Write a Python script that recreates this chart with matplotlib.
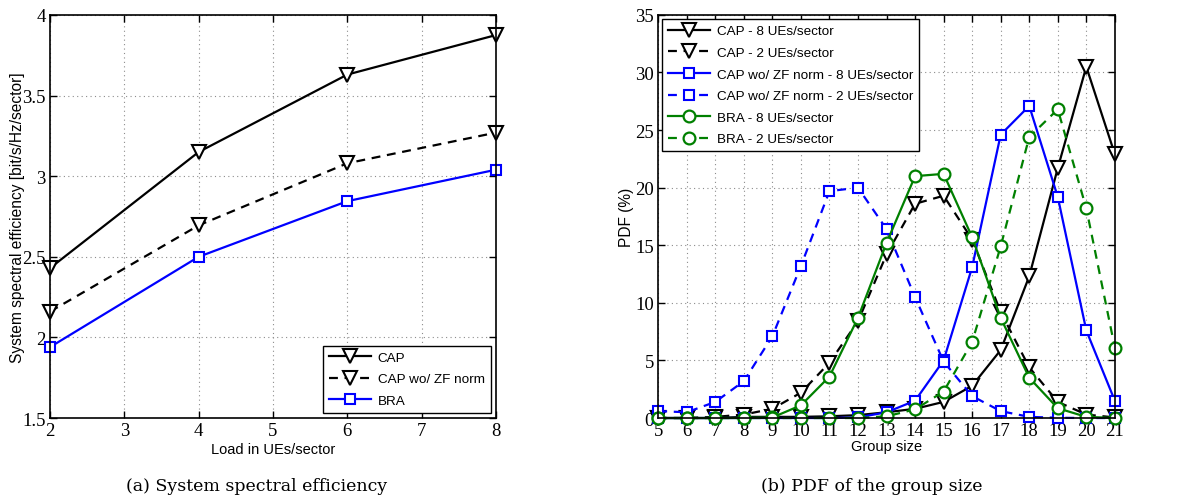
import matplotlib
matplotlib.use('Agg')
from matplotlib import pyplot as plt

# (a) system spectral efficiency vs load
load = [2, 4, 6, 8]
se_cap = [2.43, 3.15, 3.63, 3.875]
se_cap_wo_zf = [2.16, 2.695, 3.08, 3.27]
se_bra = [1.94, 2.50, 2.845, 3.04]

# (b) PDF of the group size (%)
group_size = list(range(5, 22))
cap_8 = [0, 0, 0, 0.1, 0.1, 0.1, 0.15, 0.25, 0.5, 0.8, 1.4, 2.8, 5.9, 12.3, 21.7, 30.5, 22.9]
cap_2 = [0, 0, 0.1, 0.3, 0.8, 2.2, 4.8, 8.4, 14.2, 18.6, 19.3, 15.5, 9.2, 4.4, 1.4, 0.3, 0.05]
capwo_8 = [0, 0, 0, 0, 0, 0, 0, 0.05, 0.5, 1.5, 5.0, 13.1, 24.6, 27.1, 19.2, 7.6, 1.5]
capwo_2 = [0.6, 0.5, 1.4, 3.2, 7.1, 13.2, 19.7, 20.0, 16.4, 10.5, 4.9, 1.9, 0.6, 0.1, 0.02, 0, 0]
bra_8 = [0, 0, 0, 0, 0.05, 1.1, 3.6, 8.7, 15.2, 21.0, 21.2, 15.7, 8.7, 3.5, 0.85, 0.1, 0]
bra_2 = [0, 0, 0, 0, 0, 0, 0, 0, 0.15, 0.75, 2.3, 6.6, 14.9, 24.4, 26.8, 18.2, 6.1]

green = (0, 0.5, 0)
tick_font = 'Liberation Serif'
label_font = 'Liberation Sans'

fig = plt.figure(figsize=(11.86, 5.02), dpi=100)
ax1 = fig.add_axes([0.0422, 0.1653, 0.376, 0.803])
ax2 = fig.add_axes([0.555, 0.1653, 0.385, 0.803])

lw = 1.6
tri = dict(marker='v', ms=9.5, mfc='white', mew=1.5, clip_on=False)
sq = dict(marker='s', ms=7, mfc='white', mew=1.5, clip_on=False)
circ = dict(marker='o', ms=8.5, mfc='white', mew=1.6, clip_on=False)
dash = (4, 3)

ax1.plot(load, se_cap, '-', color='k', lw=lw, label='CAP', **tri)
ax1.plot(load, se_cap_wo_zf, '--', color='k', lw=lw, dashes=dash, label='CAP wo/ ZF norm', **tri)
ax1.plot(load, se_bra, '-', color='b', lw=lw, label='BRA', **sq)
ax1.set_xlim(2, 8)
ax1.set_ylim(1.5, 4)
ax1.set_xticks(range(2, 9))
ax1.set_yticks([1.5, 2, 2.5, 3, 3.5, 4])
ax1.set_yticklabels(['1.5', '2', '2.5', '3', '3.5', '4'])
ax1.set_xlabel('Load in UEs/sector', family=label_font, fontsize=10.5, labelpad=2)
ax1.set_ylabel('System spectral efficiency [bit/s/Hz/sector]', family=label_font, fontsize=11.2)
ax1.yaxis.set_label_coords(-0.057, 0.5)
leg1 = ax1.legend(loc='lower right', prop={'family': label_font, 'size': 9.7}, handlelength=3.1,
                  fancybox=False, edgecolor='k', framealpha=1, borderaxespad=0.4,
                  labelspacing=0.65, handletextpad=0.5, borderpad=0.45)
leg1.get_frame().set_linewidth(1.0)

ax2.plot(group_size, cap_8, '-', color='k', lw=lw, label='CAP - 8 UEs/sector', **tri)
ax2.plot(group_size, cap_2, '--', color='k', lw=lw, dashes=dash, label='CAP - 2 UEs/sector', **tri)
ax2.plot(group_size, capwo_8, '-', color='b', lw=lw, label='CAP wo/ ZF norm - 8 UEs/sector', **sq)
ax2.plot(group_size, capwo_2, '--', color='b', lw=lw, dashes=dash,
         label='CAP wo/ ZF norm - 2 UEs/sector', **sq)
ax2.plot(group_size, bra_8, '-', color=green, lw=lw, label='BRA - 8 UEs/sector', **circ)
ax2.plot(group_size, bra_2, '--', color=green, lw=lw, dashes=dash, label='BRA - 2 UEs/sector', **circ)
ax2.set_xlim(5, 21)
ax2.set_ylim(0, 35)
ax2.set_xticks(group_size)
ax2.set_yticks(range(0, 36, 5))
ax2.set_xlabel('Group size', family=label_font, fontsize=10.5, labelpad=0)
ax2.set_ylabel('PDF (%)', family=label_font, fontsize=11.2)
ax2.yaxis.set_label_coords(-0.053, 0.5)
leg2 = ax2.legend(loc='upper left', prop={'family': label_font, 'size': 9.7}, handlelength=3.1,
                  fancybox=False, edgecolor='k', framealpha=1, borderaxespad=0.3,
                  labelspacing=0.68, handletextpad=0.5, borderpad=0.45)
leg2.get_frame().set_linewidth(1.0)

for ax in (ax1, ax2):
    ax.grid(True, linestyle=(0, (1, 3)), color='0.55', lw=0.8)
    ax.tick_params(direction='in', top=True, right=True, length=5, width=1, pad=3)
    for lab in ax.get_xticklabels() + ax.get_yticklabels():
        lab.set_family(tick_font)
        lab.set_fontsize(13.5)
    for sp in ax.spines.values():
        sp.set_linewidth(1.2)
        sp.set_zorder(3)

fig.text(0.216, 0.022, '(a) System spectral efficiency', ha='center', family='DejaVu Serif', fontsize=12.5)
fig.text(0.735, 0.022, '(b) PDF of the group size', ha='center', family='DejaVu Serif', fontsize=12.5)

fig.savefig('out.png', dpi=100)
